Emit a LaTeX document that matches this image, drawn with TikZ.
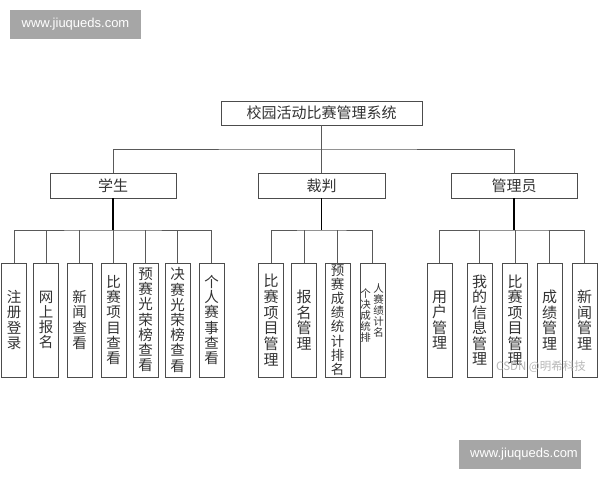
\documentclass[tikz,border=0pt]{standalone}
\usepackage{fontspec}
\setmainfont{Liberation Sans}
\newfontfamily\cjk{Noto Sans CJK SC}
\begin{document}
\begin{tikzpicture}[x=1pt,y=-1pt,
  box/.style={draw=black!70, line width=0.8pt, fill=white, inner sep=0pt,
    font=\fontsize{15}{15}\selectfont\cjk, text=black!80},
  leaf/.style={box, minimum width=25pt, minimum height=114pt, align=center,
    font=\fontsize{14.5}{15.2}\selectfont\cjk},
  mid/.style={box, minimum width=126pt, minimum height=25pt},
  link/.style={draw=black!65, line width=0.8pt},
  trunk/.style={draw=black, line width=1.4pt},
  wmtext/.style={text=white, font=\fontsize{13}{13}\selectfont, inner sep=0pt},
  small/.style={inner sep=0pt, align=center, text=black!80,
    font=\fontsize{10.5}{11}\selectfont\cjk}]
\useasboundingbox (0,0) rectangle (600,480);
\fill[white] (0,0) rectangle (600,480);

% watermarks
\node[fill=black!35, minimum width=131pt, minimum height=29pt, wmtext] (wm1) at (75.5,24.5) {www.jiuqueds.com};
\fill[black!35] (459,440) rectangle (581,469);
\node[wmtext] (wm2) at (524,454.5) {www.jiuqueds.com};

% root and middle level
\node[box, minimum width=201pt, minimum height=24pt] (root) at (321.5,113) {校园活动比赛管理系统};
\node[mid] (stu) at (113,185.5) {学生};
\node[mid, minimum width=127pt] (ref) at (321.5,185.5) {裁判};
\node[mid] (adm) at (514,185.5) {管理员};

% leaves: students
\node[leaf] (s1) at (14,320) {注\\册\\登\\录};
\node[leaf] (s2) at (46,320) {网\\上\\报\\名};
\node[leaf] (s3) at (79.5,320) {新\\闻\\查\\看};
\node[leaf] (s4) at (113.5,320) {比\\赛\\项\\目\\查\\看};
\node[leaf] (s5) at (145.5,320) {预\\赛\\光\\荣\\榜\\查\\看};
\node[leaf] (s6) at (177.5,320) {决\\赛\\光\\荣\\榜\\查\\看};
\node[leaf] (s7) at (211.5,320) {个\\人\\赛\\事\\查\\看};

% leaves: referee
\node[leaf, font=\fontsize{15}{15.7}\selectfont\cjk] (r1) at (271,320) {比\\赛\\项\\目\\管\\理};
\node[leaf, font=\fontsize{15}{15.7}\selectfont\cjk] (r2) at (304,320) {报\\名\\管\\理};
\node[leaf, font=\fontsize{13.5}{14.2}\selectfont\cjk] (r3) at (337.5,320) {预\\赛\\成\\绩\\统\\计\\排\\名};
\node[leaf] (r4) at (372.5,320) {};
\node[small] (r4b) at (378.5,311) {人\\赛\\绩\\计\\名};
\node[small] (r4a) at (365.5,315.5) {个\\决\\成\\统\\排};

% leaves: admin
\node[leaf, font=\fontsize{15}{15.5}\selectfont\cjk] (a1) at (439.5,320) {用\\户\\管\\理};
\node[leaf, font=\fontsize{15}{15.5}\selectfont\cjk] (a2) at (479.5,320) {我\\的\\信\\息\\管\\理};
\node[leaf, font=\fontsize{15}{15.5}\selectfont\cjk] (a3) at (515,320) {比\\赛\\项\\目\\管\\理};
\node[leaf, font=\fontsize{15}{15.5}\selectfont\cjk] (a4) at (549.5,320) {成\\绩\\管\\理};
\node[leaf, font=\fontsize{15}{15.5}\selectfont\cjk] (a5) at (584.5,320) {新\\闻\\管\\理};

% connectors: root to middle
\coordinate (j0) at (321.5,149);
\draw[link] (root.south) -- (j0);
\draw[link] (stu.north) |- (j0) -| (adm.north);
\draw[link] (j0) -- (ref.north);

% students
\coordinate (js) at (113,230);
\draw[trunk] (stu.south) -- (js);
\draw[link] (s1.north) |- (js) -| (s7.north);
\foreach \i in {2,...,6} \draw[link] (s\i.north) -- (s\i.north |- js);

% referee
\coordinate (jr) at (321.5,230);
\draw[trunk] (ref.south) -- (jr);
\draw[link] (r1.north) |- (jr) -| (r4.north);
\foreach \i in {2,3} \draw[link] (r\i.north) -- (r\i.north |- jr);

% admin
\coordinate (ja) at (514,230);
\draw[trunk] (adm.south) -- (ja);
\draw[link] (a1.north) |- (ja) -| (a5.north);
\foreach \i in {2,3,4} \draw[link] (a\i.north) -- (a\i.north |- ja);

% csdn watermark
\node[inner sep=0pt, text=black!28, font=\fontsize{11.5}{12}\selectfont\cjk] (csdn) at (541,367) {CSDN @明希科技};
\end{tikzpicture}
\end{document}
